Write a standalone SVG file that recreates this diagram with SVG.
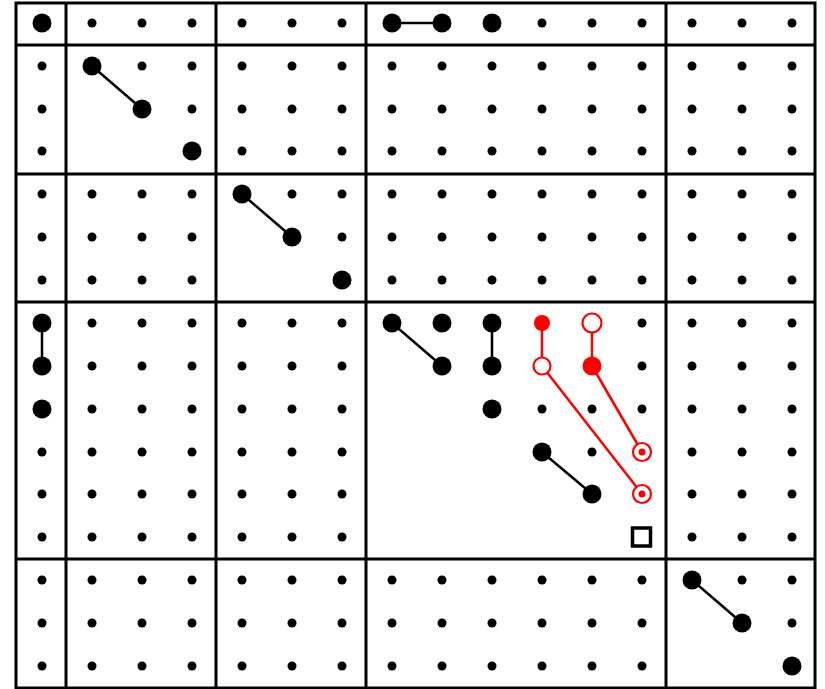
<svg xmlns="http://www.w3.org/2000/svg" width="825" height="689" viewBox="0 0 825 689">
<style>
.s{fill:#000}
.b{fill:#000}
.grid{stroke:#000;stroke-width:3;fill:none}
.c{stroke:#000;stroke-width:2.5;fill:none}
.r{stroke:#ff0000;stroke-width:2.5;fill:none}
.rf{fill:#ff0000}
.ro{fill:#fff;stroke:#ff0000;stroke-width:2.2}
</style>
<defs>
<circle id="sm" r="4.5" class="s"/>
<circle id="bg" r="9.5" class="b"/>
</defs>
<rect width="825" height="689" fill="#fff"/>
<g id="grid" class="grid">
<rect x="16" y="3" width="799" height="685"/>
<line x1="66" y1="3" x2="66" y2="688"/>
<line x1="216" y1="3" x2="216" y2="688"/>
<line x1="366" y1="3" x2="366" y2="688"/>
<line x1="666" y1="3" x2="666" y2="688"/>
<line x1="16" y1="45" x2="815" y2="45"/>
<line x1="16" y1="174" x2="815" y2="174"/>
<line x1="16" y1="302" x2="815" y2="302"/>
<line x1="16" y1="559" x2="815" y2="559"/>
</g>
<g id="connectors">
<line class="c" x1="392" y1="23" x2="442" y2="23"/>
<line class="c" x1="92" y1="66" x2="142" y2="109"/>
<line class="c" x1="242" y1="194" x2="292" y2="237"/>
<line class="c" x1="42" y1="323" x2="42" y2="366"/>
<line class="c" x1="392" y1="323" x2="442" y2="366"/>
<line class="c" x1="492" y1="323" x2="492" y2="366"/>
<line class="c" x1="542" y1="452" x2="592" y2="494"/>
<line class="c" x1="692" y1="580" x2="742" y2="623"/>
<line class="r" x1="542" y1="323" x2="542" y2="366"/>
<line class="r" x1="592" y1="323" x2="592" y2="366"/>
<line class="r" x1="542" y1="366" x2="642" y2="494"/>
<line class="r" x1="592" y1="366" x2="642" y2="452"/>
</g>
<g id="row0">
<use href="#bg" x="42" y="23"/>
<use href="#sm" x="92" y="23"/><use href="#sm" x="142" y="23"/><use href="#sm" x="192" y="23"/>
<use href="#sm" x="242" y="23"/><use href="#sm" x="292" y="23"/><use href="#sm" x="342" y="23"/>
<use href="#bg" x="392" y="23"/><use href="#bg" x="442" y="23"/><use href="#bg" x="492" y="23"/>
<use href="#sm" x="542" y="23"/><use href="#sm" x="592" y="23"/><use href="#sm" x="642" y="23"/>
<use href="#sm" x="692" y="23"/><use href="#sm" x="742" y="23"/><use href="#sm" x="792" y="23"/>
</g>
<g id="block1rows">
<!-- row 66 -->
<use href="#sm" x="42" y="66"/>
<use href="#bg" x="92" y="66"/><use href="#sm" x="142" y="66"/><use href="#sm" x="192" y="66"/>
<use href="#sm" x="242" y="66"/><use href="#sm" x="292" y="66"/><use href="#sm" x="342" y="66"/>
<use href="#sm" x="392" y="66"/><use href="#sm" x="442" y="66"/><use href="#sm" x="492" y="66"/><use href="#sm" x="542" y="66"/><use href="#sm" x="592" y="66"/><use href="#sm" x="642" y="66"/>
<use href="#sm" x="692" y="66"/><use href="#sm" x="742" y="66"/><use href="#sm" x="792" y="66"/>
<!-- row 109 -->
<use href="#sm" x="42" y="109"/>
<use href="#bg" x="142" y="109"/><use href="#sm" x="192" y="109"/>
<use href="#sm" x="242" y="109"/><use href="#sm" x="292" y="109"/><use href="#sm" x="342" y="109"/>
<use href="#sm" x="392" y="109"/><use href="#sm" x="442" y="109"/><use href="#sm" x="492" y="109"/><use href="#sm" x="542" y="109"/><use href="#sm" x="592" y="109"/><use href="#sm" x="642" y="109"/>
<use href="#sm" x="692" y="109"/><use href="#sm" x="742" y="109"/><use href="#sm" x="792" y="109"/>
<!-- row 151 -->
<use href="#sm" x="42" y="151"/>
<use href="#bg" x="192" y="151"/>
<use href="#sm" x="242" y="151"/><use href="#sm" x="292" y="151"/><use href="#sm" x="342" y="151"/>
<use href="#sm" x="392" y="151"/><use href="#sm" x="442" y="151"/><use href="#sm" x="492" y="151"/><use href="#sm" x="542" y="151"/><use href="#sm" x="592" y="151"/><use href="#sm" x="642" y="151"/>
<use href="#sm" x="692" y="151"/><use href="#sm" x="742" y="151"/><use href="#sm" x="792" y="151"/>
</g>
<g id="block2rows">
<!-- row 194 -->
<use href="#sm" x="42" y="194"/>
<use href="#sm" x="92" y="194"/><use href="#sm" x="142" y="194"/><use href="#sm" x="192" y="194"/>
<use href="#bg" x="242" y="194"/><use href="#sm" x="292" y="194"/><use href="#sm" x="342" y="194"/>
<use href="#sm" x="392" y="194"/><use href="#sm" x="442" y="194"/><use href="#sm" x="492" y="194"/><use href="#sm" x="542" y="194"/><use href="#sm" x="592" y="194"/><use href="#sm" x="642" y="194"/>
<use href="#sm" x="692" y="194"/><use href="#sm" x="742" y="194"/><use href="#sm" x="792" y="194"/>
<!-- row 237 -->
<use href="#sm" x="42" y="237"/>
<use href="#sm" x="92" y="237"/><use href="#sm" x="142" y="237"/><use href="#sm" x="192" y="237"/>
<use href="#bg" x="292" y="237"/><use href="#sm" x="342" y="237"/>
<use href="#sm" x="392" y="237"/><use href="#sm" x="442" y="237"/><use href="#sm" x="492" y="237"/><use href="#sm" x="542" y="237"/><use href="#sm" x="592" y="237"/><use href="#sm" x="642" y="237"/>
<use href="#sm" x="692" y="237"/><use href="#sm" x="742" y="237"/><use href="#sm" x="792" y="237"/>
<!-- row 280 -->
<use href="#sm" x="42" y="280"/>
<use href="#sm" x="92" y="280"/><use href="#sm" x="142" y="280"/><use href="#sm" x="192" y="280"/>
<use href="#bg" x="342" y="280"/>
<use href="#sm" x="392" y="280"/><use href="#sm" x="442" y="280"/><use href="#sm" x="492" y="280"/><use href="#sm" x="542" y="280"/><use href="#sm" x="592" y="280"/><use href="#sm" x="642" y="280"/>
<use href="#sm" x="692" y="280"/><use href="#sm" x="742" y="280"/><use href="#sm" x="792" y="280"/>
</g>
<g id="block3rows">
<!-- row 323 -->
<use href="#bg" x="42" y="323"/>
<use href="#sm" x="92" y="323"/><use href="#sm" x="142" y="323"/><use href="#sm" x="192" y="323"/>
<use href="#sm" x="242" y="323"/><use href="#sm" x="292" y="323"/><use href="#sm" x="342" y="323"/>
<use href="#bg" x="392" y="323"/><use href="#bg" x="442" y="323"/><use href="#bg" x="492" y="323"/>
<circle class="rf" cx="542" cy="323" r="8"/>
<circle class="ro" cx="592" cy="323" r="9.5"/>
<use href="#sm" x="642" y="323"/>
<use href="#sm" x="692" y="323"/><use href="#sm" x="742" y="323"/><use href="#sm" x="792" y="323"/>
<!-- row 366 -->
<use href="#bg" x="42" y="366"/>
<use href="#sm" x="92" y="366"/><use href="#sm" x="142" y="366"/><use href="#sm" x="192" y="366"/>
<use href="#sm" x="242" y="366"/><use href="#sm" x="292" y="366"/><use href="#sm" x="342" y="366"/>
<use href="#bg" x="442" y="366"/><use href="#bg" x="492" y="366"/>
<circle class="ro" cx="542" cy="366" r="8.5"/>
<circle class="rf" cx="592" cy="366" r="9.5"/>
<use href="#sm" x="642" y="366"/>
<use href="#sm" x="692" y="366"/><use href="#sm" x="742" y="366"/><use href="#sm" x="792" y="366"/>
<!-- row 409 -->
<use href="#bg" x="42" y="409"/>
<use href="#sm" x="92" y="409"/><use href="#sm" x="142" y="409"/><use href="#sm" x="192" y="409"/>
<use href="#sm" x="242" y="409"/><use href="#sm" x="292" y="409"/><use href="#sm" x="342" y="409"/>
<use href="#bg" x="492" y="409"/><use href="#sm" x="542" y="409"/><use href="#sm" x="592" y="409"/><use href="#sm" x="642" y="409"/>
<use href="#sm" x="692" y="409"/><use href="#sm" x="742" y="409"/><use href="#sm" x="792" y="409"/>
<!-- row 452 -->
<use href="#sm" x="42" y="452"/>
<use href="#sm" x="92" y="452"/><use href="#sm" x="142" y="452"/><use href="#sm" x="192" y="452"/>
<use href="#sm" x="242" y="452"/><use href="#sm" x="292" y="452"/><use href="#sm" x="342" y="452"/>
<use href="#bg" x="542" y="452"/><use href="#sm" x="592" y="452"/>
<circle class="ro" cx="642" cy="452" r="9"/><circle class="rf" cx="642" cy="452" r="3.5"/>
<use href="#sm" x="692" y="452"/><use href="#sm" x="742" y="452"/><use href="#sm" x="792" y="452"/>
<!-- row 494 -->
<use href="#sm" x="42" y="494"/>
<use href="#sm" x="92" y="494"/><use href="#sm" x="142" y="494"/><use href="#sm" x="192" y="494"/>
<use href="#sm" x="242" y="494"/><use href="#sm" x="292" y="494"/><use href="#sm" x="342" y="494"/>
<use href="#bg" x="592" y="494"/>
<circle class="ro" cx="642" cy="494" r="9"/><circle class="rf" cx="642" cy="494" r="3.5"/>
<use href="#sm" x="692" y="494"/><use href="#sm" x="742" y="494"/><use href="#sm" x="792" y="494"/>
<!-- row 537 -->
<use href="#sm" x="42" y="537"/>
<use href="#sm" x="92" y="537"/><use href="#sm" x="142" y="537"/><use href="#sm" x="192" y="537"/>
<use href="#sm" x="242" y="537"/><use href="#sm" x="292" y="537"/><use href="#sm" x="342" y="537"/>
<rect x="632.5" y="528" width="18" height="18" fill="#fff" stroke="#000" stroke-width="3.5"/>
<use href="#sm" x="692" y="537"/><use href="#sm" x="742" y="537"/><use href="#sm" x="792" y="537"/>
</g>
<g id="block4rows">
<!-- row 580 -->
<use href="#sm" x="42" y="580"/>
<use href="#sm" x="92" y="580"/><use href="#sm" x="142" y="580"/><use href="#sm" x="192" y="580"/>
<use href="#sm" x="242" y="580"/><use href="#sm" x="292" y="580"/><use href="#sm" x="342" y="580"/>
<use href="#sm" x="392" y="580"/><use href="#sm" x="442" y="580"/><use href="#sm" x="492" y="580"/><use href="#sm" x="542" y="580"/><use href="#sm" x="592" y="580"/><use href="#sm" x="642" y="580"/>
<use href="#bg" x="692" y="580"/><use href="#sm" x="742" y="580"/><use href="#sm" x="792" y="580"/>
<!-- row 623 -->
<use href="#sm" x="42" y="623"/>
<use href="#sm" x="92" y="623"/><use href="#sm" x="142" y="623"/><use href="#sm" x="192" y="623"/>
<use href="#sm" x="242" y="623"/><use href="#sm" x="292" y="623"/><use href="#sm" x="342" y="623"/>
<use href="#sm" x="392" y="623"/><use href="#sm" x="442" y="623"/><use href="#sm" x="492" y="623"/><use href="#sm" x="542" y="623"/><use href="#sm" x="592" y="623"/><use href="#sm" x="642" y="623"/>
<use href="#bg" x="742" y="623"/><use href="#sm" x="792" y="623"/>
<!-- row 666 -->
<use href="#sm" x="42" y="666"/>
<use href="#sm" x="92" y="666"/><use href="#sm" x="142" y="666"/><use href="#sm" x="192" y="666"/>
<use href="#sm" x="242" y="666"/><use href="#sm" x="292" y="666"/><use href="#sm" x="342" y="666"/>
<use href="#sm" x="392" y="666"/><use href="#sm" x="442" y="666"/><use href="#sm" x="492" y="666"/><use href="#sm" x="542" y="666"/><use href="#sm" x="592" y="666"/><use href="#sm" x="642" y="666"/>
<use href="#bg" x="792" y="666"/>
</g>
</svg>
